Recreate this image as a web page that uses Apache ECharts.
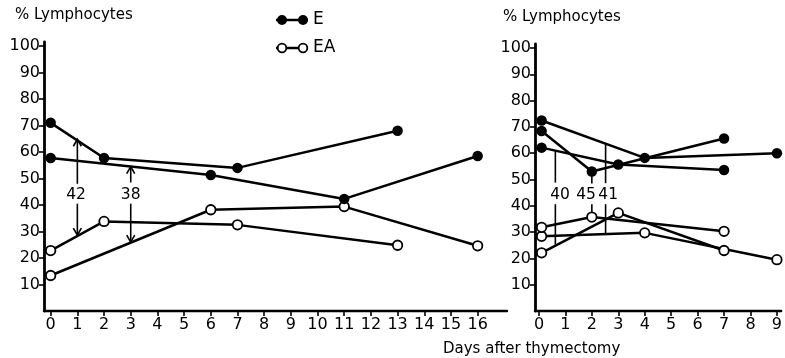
<!DOCTYPE html>
<html><head><meta charset="utf-8">
<script src="https://cdn.jsdelivr.net/npm/echarts@6/dist/echarts.min.js"></script>
<style>html,body{margin:0;padding:0;background:#fff}#c{width:785px;height:358px}</style>
</head><body><div id="c"></div>
<script>
// ---- data ----
const leftE1 = [[0,71],[2,57.7],[7,54],[13,68]];
const leftE2 = [[0,57.7],[6,51.3],[11,42.3],[16,58.5]];
const leftEA1 = [[0,22.8],[2,33.8],[7,32.5],[13,24.8]];
const leftEA2 = [[0,13.4],[6,38.2],[11,39.4],[16,24.6]];

const rightE_A = [[0.1,72.4],[4,58.2],[9,60]];
const rightE_B = [[0.1,68.4],[2,53],[7,65.6]];
const rightE_C = [[0.1,62.1],[3,55.7],[7,53.6]];
const rightEA_A = [[0.1,28.4],[4,29.7],[9,19.5]];
const rightEA_B = [[0.1,31.8],[2,35.7],[7,30.3]];
const rightEA_C = [[0.1,22.1],[3,37.3],[7,23]];

// annotations: [day, top, gapTop, gapBottom, bottom, labelDay, labelValue]
const leftAnnot = [[1,64.8,48,40.5,28.6,0.95,43.8],[3,54.5,48.5,40.5,26,3.0,43.8]];
const leftAnnotLabels = ['42','38'];
const rightAnnot = [[0.62,60.8,48.8,40.6,25.2,0.8,44],[2,53,48.5,40.6,35.7,1.78,44],[2.52,63.2,48.6,40.6,29.2,2.62,44]];
const rightAnnotLabels = ['40','45','41'];

const leftTicks = [0,1,2,3,4,5,6,7,8,9,10,11,12,13,14,15,16];
const rightTicks = [0,1,2,3,4,5,6,7,8,9];
const yTicks = [10,20,30,40,50,60,70,80,90,100];

// ---- chart ----
const FONT = 'DejaVu Sans';
const chart = echarts.init(document.getElementById('c'), null, {renderer:'canvas'});

function xAxis(gi, min, max, ticks){
  return {type:'value', gridIndex:gi, min:min, max:max,
    axisLine:{show:true, onZero:false, lineStyle:{color:'#000', width:2.4}},
    axisTick:{show:true, customValues:ticks, length:5, lineStyle:{color:'#000', width:1.6}},
    axisLabel:{customValues:ticks, color:'#000', fontSize:16, fontFamily:FONT, margin:6},
    splitLine:{show:false}};
}
function yAxis(gi){
  return {type:'value', gridIndex:gi, min:0, max:101.5,
    axisLine:{show:true, onZero:false, lineStyle:{color:'#000', width:2.8}},
    axisTick:{show:true, customValues:yTicks, length:5, lineStyle:{color:'#000', width:1.6}},
    axisLabel:{customValues:yTicks, color:'#000', fontSize:16, fontFamily:FONT, margin:4},
    splitLine:{show:false}};
}
function lineSeries(data, gi, filled){
  return {type:'line', xAxisIndex:gi, yAxisIndex:gi, data:data, animation:false,
    symbol:'circle', symbolSize: filled?10.5:9.5, z: filled?4:3,
    lineStyle:{color:'#000', width:2.5},
    itemStyle:{color: filled?'#000':'#fff', borderColor:'#000', borderWidth: filled?0:1.8}};
}
function annotSeries(data, labels, gi, arrows){
  return {type:'custom', xAxisIndex:gi, yAxisIndex:gi, data:data, animation:false, z:2,
    renderItem:function(params, api){
      const x = api.value(0);
      const pT = api.coord([x, api.value(1)]);
      const pGT = api.coord([x, api.value(2)]);
      const pGB = api.coord([x, api.value(3)]);
      const pB = api.coord([x, api.value(4)]);
      const pL = api.coord([api.value(5), api.value(6)]);
      const st = {stroke:'#000', lineWidth:1.6, fill:null};
      const ch = [
        {type:'line', shape:{x1:pT[0],y1:pT[1],x2:pGT[0],y2:pGT[1]}, style:st},
        {type:'line', shape:{x1:pGB[0],y1:pGB[1],x2:pB[0],y2:pB[1]}, style:st},
        {type:'text', style:{text:labels[params.dataIndex], x:pL[0], y:pL[1], align:'center', verticalAlign:'middle', fontSize:15.5, fontFamily:FONT, fill:'#000'}}
      ];
      if(arrows){
        ch.push({type:'polyline', shape:{points:[[pT[0]-4,pT[1]+7],[pT[0],pT[1]],[pT[0]+4,pT[1]+7]]}, style:st});
        ch.push({type:'polyline', shape:{points:[[pB[0]-4,pB[1]-7],[pB[0],pB[1]],[pB[0]+4,pB[1]-7]]}, style:st});
      }
      return {type:'group', children:ch};
    }};
}

const option = {
  backgroundColor:'#fff',
  animation:false,
  grid:[
    {left:44, top:42, width:463, height:269},
    {left:535, top:44, width:250, height:267}
  ],
  xAxis:[xAxis(0,-0.25,17.1,leftTicks), xAxis(1,-0.15,9.16,rightTicks)],
  yAxis:[yAxis(0), yAxis(1)],
  series:[
    annotSeries(leftAnnot, leftAnnotLabels, 0, true),
    annotSeries(rightAnnot, rightAnnotLabels, 1, false),
    lineSeries(leftEA1,0,false), lineSeries(leftEA2,0,false),
    lineSeries(leftE1,0,true), lineSeries(leftE2,0,true),
    lineSeries(rightEA_A,1,false), lineSeries(rightEA_B,1,false), lineSeries(rightEA_C,1,false),
    lineSeries(rightE_A,1,true), lineSeries(rightE_B,1,true), lineSeries(rightE_C,1,true)
  ],
  graphic:[
    {type:'text', left:15, top:8, style:{text:'% Lymphocytes', fontSize:15, fontFamily:FONT, fill:'#000'}},
    {type:'text', left:503, top:10, style:{text:'% Lymphocytes', fontSize:15, fontFamily:FONT, fill:'#000'}},
    {type:'text', left:443, top:342, style:{text:'Days after thymectomy', fontSize:15, fontFamily:FONT, fill:'#000'}},
    // legend
    {type:'line', shape:{x1:276,y1:20,x2:308,y2:20}, style:{stroke:'#000', lineWidth:2.5}},
    {type:'circle', shape:{cx:282,cy:20,r:5}, style:{fill:'#000'}},
    {type:'circle', shape:{cx:303,cy:20,r:5}, style:{fill:'#000'}},
    {type:'text', x:313, y:20, style:{text:'E', fontSize:17, fontFamily:FONT, fill:'#000', verticalAlign:'middle'}},
    {type:'line', shape:{x1:276,y1:48,x2:308,y2:48}, style:{stroke:'#000', lineWidth:2.5}},
    {type:'circle', shape:{cx:282,cy:48,r:4.3}, style:{fill:'#fff', stroke:'#000', lineWidth:1.8}},
    {type:'circle', shape:{cx:303,cy:48,r:4.3}, style:{fill:'#fff', stroke:'#000', lineWidth:1.8}},
    {type:'text', x:313, y:48, style:{text:'EA', fontSize:17, fontFamily:FONT, fill:'#000', verticalAlign:'middle'}}
  ]
};
chart.setOption(option);
</script>
</body></html>
